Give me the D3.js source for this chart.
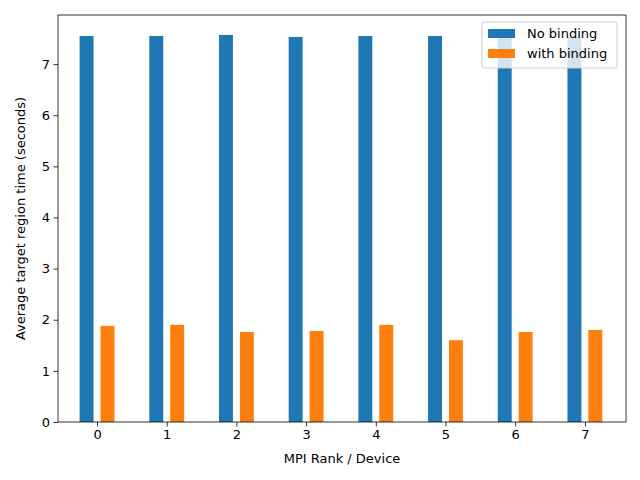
<!DOCTYPE html>
<html><head><meta charset="utf-8">
<script src="https://cdn.jsdelivr.net/npm/d3@7"></script>
<style>body{margin:0;background:#fff}text{font-family:"DejaVu Sans",sans-serif}</style>
</head><body><svg id="c" width="640" height="480"></svg>
<script>
const categories=[0,1,2,3,4,5,6,7];
const noBinding=[7.55,7.55,7.57,7.53,7.55,7.55,7.55,7.53];
const withBinding=[1.88,1.90,1.76,1.78,1.90,1.60,1.76,1.80];
const yTicks=[0,1,2,3,4,5,6,7];
const seriesNames=["No binding","with binding"];
const colors=["#1f77b4","#ff7f0e"];
const L=58,R=626,T=15,B=422;
const svg=d3.select("#c");
const x=d3.scaleLinear().domain([-0.56,7.59]).range([L,R]);
const y=d3.scaleLinear().domain([0,7.96]).range([B,T]);
const bw=x(0.2)-x(0);
[noBinding,withBinding].forEach((vals,s)=>{
  svg.append("g").selectAll("rect").data(vals).enter().append("rect")
   .attr("x",(d,i)=>x(categories[i]+(s?0.15:-0.15)-0.1)).attr("width",bw)
   .attr("y",d=>y(d)).attr("height",d=>B-y(d)).attr("fill",colors[s]);
});
const ax=svg.append("g").attr("transform",`translate(0,${B})`).call(d3.axisBottom(x).tickValues(categories).tickFormat(d3.format("d")).tickSizeOuter(0));
const ay=svg.append("g").attr("transform",`translate(${L},0)`).call(d3.axisLeft(y).tickValues(yTicks).tickSizeOuter(0));
[ax,ay].forEach(a=>{a.selectAll("text").attr("font-size",13).attr("fill","#000");a.select(".domain").remove();a.selectAll("line").attr("stroke","#000").attr("stroke-width",0.8);});
ax.selectAll("line").attr("y2",4.5);ax.selectAll("text").attr("y",8);
ay.selectAll("line").attr("x2",-4.5);ay.selectAll("text").attr("x",-8);
svg.append("rect").attr("x",L).attr("y",T).attr("width",R-L).attr("height",B-T).attr("fill","none").attr("stroke","#000").attr("stroke-width",0.8);
svg.append("text").attr("x",(L+R)/2).attr("y",463).attr("text-anchor","middle").attr("font-size",13).text("MPI Rank / Device");
svg.append("text").attr("transform",`translate(25,${(T+B)/2}) rotate(-90)`).attr("text-anchor","middle").attr("font-size",13).text("Average target region time (seconds)");
const lg=svg.append("g");
lg.append("rect").attr("x",482).attr("y",22).attr("width",135).attr("height",46).attr("rx",2).attr("fill","#fff").attr("fill-opacity",0.8).attr("stroke","#ccc");
seriesNames.forEach((n,i)=>{
  lg.append("rect").attr("x",488).attr("y",29+i*20).attr("width",27).attr("height",9).attr("fill",colors[i]);
  lg.append("text").attr("x",527).attr("y",38+i*20).attr("font-size",13).text(n);
});
</script></body></html>
